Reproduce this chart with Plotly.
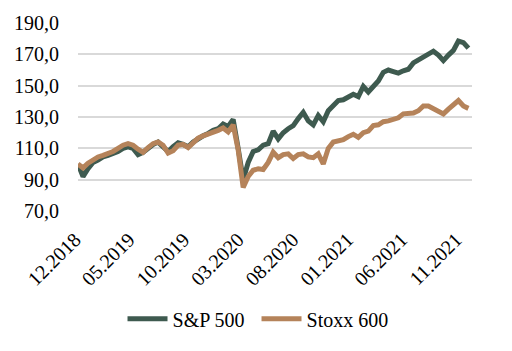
import pandas as pd
import plotly.graph_objects as go

# biweekly observation dates (index = 100 at start)
dates = pd.date_range("2018-12-07", periods=79, freq="14D")

sp500 = [100, 92, 97, 101, 102.5, 104.5, 105.5, 106.5, 108, 110,
         111, 110, 106, 107.5, 110.5, 112.5, 114, 111.5, 108, 111,
         113.5, 112.5, 111, 114, 116.5, 118, 119.5, 121.5, 122.5, 125.5,
         124, 128.5, 110, 90, 101, 108, 109, 112, 113, 121,
         116, 120, 122.5, 124.5, 129, 133, 127.5, 125, 131, 127,
         134, 137, 140.5, 141, 142.5, 144.5, 143, 149.5, 146, 149,
         153, 158.5, 160, 159, 158, 159.5, 160.5, 164.5, 166.5, 168,
         170, 172, 169.5, 166, 169.5, 172.5, 178.5, 177.5, 174]

stoxx600 = [100, 97.5, 100.5, 103, 104.5, 105.5, 106.5, 108, 110, 112,
            113, 112, 109.5, 107.5, 110.5, 113, 114, 112, 107, 108.5,
            112, 112.5, 110.5, 113.5, 116.5, 118, 119, 120.5, 121.5, 123,
            120.5, 125, 109, 85, 92, 96, 97, 96.5, 101, 107.5,
            104, 106, 106.5, 103.5, 106, 106.5, 104.5, 104, 106.5, 100,
            110, 114, 114.5, 115.5, 117.5, 119, 117, 120, 121, 124.5,
            125, 127, 127.5, 128.5, 129.5, 132, 132.5, 132.5, 134, 137,
            137, 135.5, 134, 132, 135, 137.5, 140.5, 137, 135.5]

tick_dates = ["2018-12-07", "2019-05-07", "2019-10-07", "2020-03-07",
              "2020-08-07", "2021-01-07", "2021-06-07", "2021-11-07"]
tick_labels = ["12.2018", "05.2019", "10.2019", "03.2020",
               "08.2020", "01.2021", "06.2021", "11.2021"]
y_ticks = [70, 90, 110, 130, 150, 170, 190]
y_labels = ["70,0", "90,0", "110,0", "130,0", "150,0", "170,0", "190,0"]

FONT = "Liberation Serif, DejaVu Serif, serif"
GREEN = "#3e5a4f"
ORANGE = "#b5835a"

fig = go.Figure()
fig.add_trace(go.Scatter(x=dates, y=sp500, mode="lines", name="S&P 500",
                         line=dict(color=GREEN, width=5)))
fig.add_trace(go.Scatter(x=dates, y=stoxx600, mode="lines", name="Stoxx 600",
                         line=dict(color=ORANGE, width=5)))

fig.update_layout(
    width=512, height=351,
    margin=dict(l=78, r=40, t=23, b=140, autoexpand=False),
    paper_bgcolor="white", plot_bgcolor="white",
    font=dict(family=FONT, size=20, color="#000000"),
    showlegend=True,
    legend=dict(orientation="h", xref="container", yref="container",
                x=0.501, xanchor="center", y=0.092, yanchor="middle",
                font=dict(family=FONT, size=20), itemwidth=40,
                entrywidth=79, tracegroupgap=0),
    xaxis=dict(type="date", range=["2018-12-07", "2021-12-13"],
               tickmode="array", tickvals=tick_dates, ticktext=tick_labels,
               tickangle=-45, showgrid=False, showline=False, zeroline=False,
               ticks="", ticklabelstandoff=12, ticklabelshift=-3,
               automargin=False, tickfont=dict(family=FONT, size=20)),
    yaxis=dict(range=[70, 190], tickmode="array", tickvals=y_ticks,
               ticktext=y_labels, showgrid=True, gridcolor="#d9d9d9",
               gridwidth=1.5, zeroline=False, showline=False, ticks="",
               ticklabelstandoff=18, automargin=False,
               tickfont=dict(family=FONT, size=20)),
)

fig.write_html("out.html")
